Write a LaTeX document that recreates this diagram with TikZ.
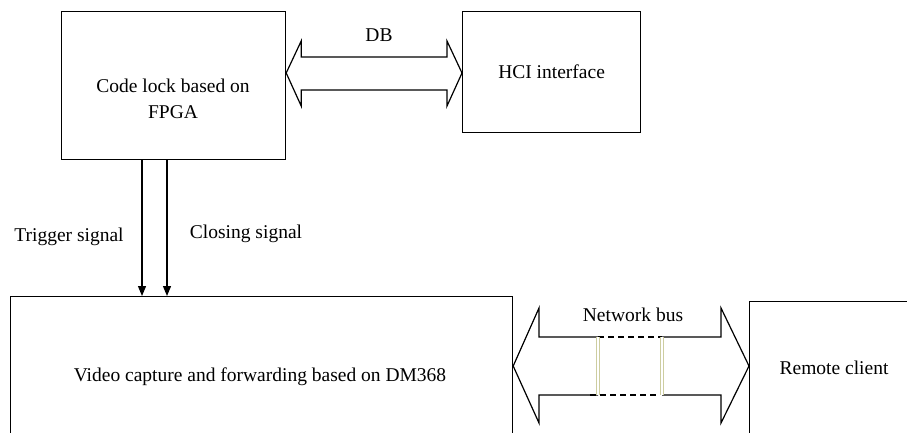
\documentclass[tikz,border=0pt]{standalone}
\usepackage{fontspec}
\setmainfont{Liberation Serif}
\newfontfamily\figfont{Liberation Serif}
\usetikzlibrary{arrows.meta,calc}
\begin{document}
\begin{tikzpicture}[x=1pt,y=-1pt,
  box/.style={draw,line width=1.2pt,rectangle,inner sep=0pt,anchor=north west},
  lbl/.style={font=\figfont\fontsize{19.5}{25.5}\selectfont,align=center,inner sep=0pt},
  line/.style={line width=1.2pt},
  sig/.style={line width=1.2pt,-{Triangle[length=10pt,width=8pt]}},
  dsh/.style={line width=1.2pt,dash pattern=on 6pt off 4pt},
  band/.style={draw={rgb,255:red,205;green,205;blue,160},line width=0.8pt,double=white,double distance=1.6pt}]
\path[use as bounding box,clip] (0,0) rectangle (907,433);
\fill[white] (0,0) rectangle (907,433);
% boxes
\node[box,minimum width=224pt,minimum height=148pt] (codelock) at (61,11) {};
\node[box,minimum width=178pt,minimum height=121pt] (hci) at (462,11) {};
\node[box,minimum width=502pt,minimum height=175pt] (video) at (10,296) {};
\node[box,minimum width=175pt,minimum height=150pt] (remote) at (749,301) {};
% texts
\node[lbl] (tcode) at (173,99) {Code lock based on\\FPGA};
\node[lbl] (thci) at (hci.center) {HCI interface};
\node[lbl] (tvideo) at (260,377) {Video capture and forwarding based on DM368};
\node[lbl] (tremote) at (834,368) {Remote client};
\node[lbl] (tdb) at (379,35) {DB};
\node[lbl] (ttrig) at (69,237) {Trigger signal};
\node[lbl] (tclose) at (246,234) {Closing signal};
\node[lbl] (tnet) at (633,315) {Network bus};
% DB double arrow
\coordinate (dbL) at (codelock.east |- 0,73);
\coordinate (dbR) at (hci.west |- 0,73);
\draw[line,line join=miter] (dbL) -- ++(15,-32) -- ++(0,16) -- ($(dbR)+(-15,-16)$) -- ++(0,-16) -- (dbR)
  -- ++(-15,33) -- ++(0,-16) -- ($(dbL)+(15,17)$) -- ++(0,16) -- cycle;
% signal arrows
\draw[sig] (codelock.south -| 142,0) -- (video.north -| 142,0);
\draw[sig] (codelock.south -| 167,0) -- (video.north -| 167,0);
% network bus arrow
\coordinate (nL) at (video.east |- 0,366);
\coordinate (nR) at (remote.west |- 0,366);
\draw[line,line join=miter] (598,337) -- (539,337) -- (539,308) -- (nL) -- (539,423) -- (539,395) -- (598,395);
\draw[line,line join=miter] (662,337) -- (721,337) -- (721,308) -- (nR) -- (721,423) -- (721,395) -- (662,395);
\draw[dsh] (598,337) -- (662,337) (590,395) -- (658,395);
\draw[band] (598,337) -- (598,395);
\draw[band] (662,337) -- (662,395);
\end{tikzpicture}
\end{document}
